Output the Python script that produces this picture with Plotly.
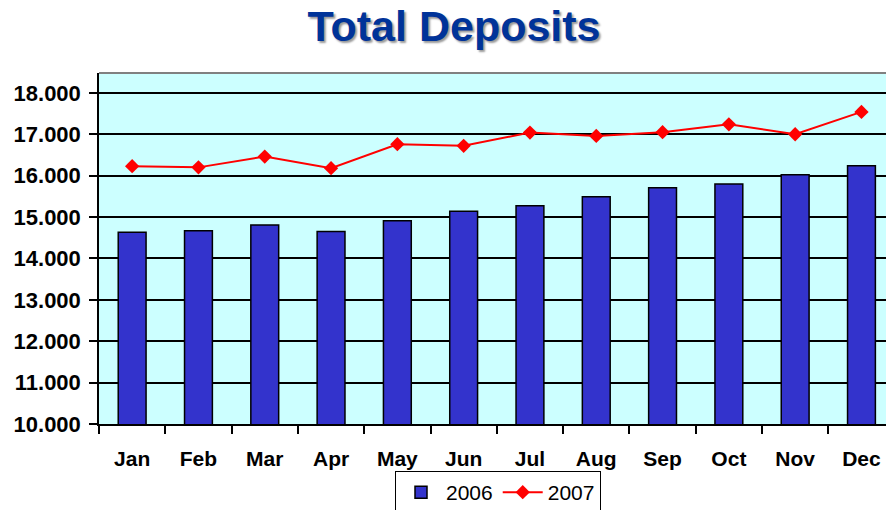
import plotly.graph_objects as go

months = ["Jan", "Feb", "Mar", "Apr", "May", "Jun", "Jul", "Aug", "Sep", "Oct", "Nov", "Dec"]
deposits_2006 = [14630, 14670, 14810, 14650, 14910, 15140, 15270, 15490, 15710, 15800, 16020, 16240]
deposits_2007 = [16230, 16200, 16460, 16180, 16760, 16720, 17040, 16960, 17050, 17240, 17000, 17540]
y_ticks = [10000, 11000, 12000, 13000, 14000, 15000, 16000, 17000, 18000]

FONT = "Arial, 'Liberation Sans', sans-serif"

fig = go.Figure()
fig.add_trace(go.Bar(
    x=months, y=deposits_2006, name="2006",
    marker=dict(color="#3333CC", line=dict(color="#000000", width=1.5)),
    width=0.42,
))
fig.add_trace(go.Scatter(
    x=months, y=deposits_2007, name="2007", mode="lines+markers",
    line=dict(color="#FF0000", width=2),
    marker=dict(symbol="diamond", size=11, color="#FF0000"),
))

fig.update_layout(
    width=886, height=510,
    margin=dict(l=99, r=0, t=73, b=86),
    paper_bgcolor="white",
    plot_bgcolor="#CCFFFF",
    separators=",.",
    title=dict(
        text="<b>Total Deposits</b>",
        x=454 / 886, xanchor="center", y=1 - 26 / 510, yanchor="middle",
        font=dict(family=FONT, size=43, color="#003399", shadow="2px 2px 2px #9a9a9a"),
    ),
    showlegend=True,
    legend=dict(
        orientation="h",
        xref="container", yref="container",
        x=395 / 886, xanchor="left", y=1 - 471 / 510, yanchor="top",
        bordercolor="#000000", borderwidth=1, bgcolor="white",
        font=dict(family=FONT, size=21, color="#000000"),
        itemwidth=40,
    ),
)

fig.update_xaxes(
    type="category",
    range=[-0.5, 11.37],
    automargin=False,
    showgrid=False,
    showline=True, linecolor="#000000", linewidth=1.5,
    ticks="outside", tickson="boundaries", ticklen=8, tickcolor="#000000", tickwidth=1.5,
    tickfont=dict(family=FONT, size=21, color="#000000", weight="bold"),
    ticklabelstandoff=15,
    zeroline=False,
)
fig.update_yaxes(
    range=[10000, 18480],
    automargin=False,
    tickvals=y_ticks,
    tickformat=",d",
    showgrid=True, gridcolor="#000000", gridwidth=1.5,
    showline=True, linecolor="#000000", linewidth=1.5,
    ticks="outside", ticklen=8, tickcolor="#000000", tickwidth=1.5,
    tickfont=dict(family=FONT, size=22, color="#000000", weight="bold"),
    ticklabelstandoff=4,
    zeroline=False,
)

fig.add_shape(type="line", xref="paper", yref="paper", x0=0, x1=1, y0=1, y1=1,
              line=dict(color="#808080", width=2))

fig.write_html("out.html", config={"displayModeBar": False},
               post_script="document.body.style.margin='0';")
